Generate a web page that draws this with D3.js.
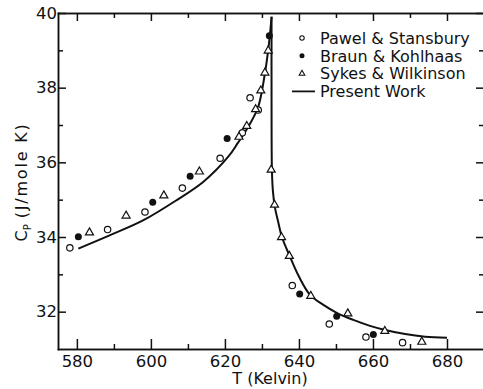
<!DOCTYPE html>
<html lang="en">
<head>
    <meta charset="UTF-8">
    <title>Heat capacity near the Curie point</title>
    <script src="https://d3js.org/d3.v7.min.js"></script>
    <style>
        body { margin: 0; background: #fff; font-family: "DejaVu Sans", sans-serif; }
        .axis path, .axis line { stroke: #111; stroke-width: 1.5px; }
        .axis text { font-size: 16.5px; fill: #111; font-family: "DejaVu Sans", sans-serif; }
        .legend text { font-size: 16px; fill: #111; }
        .label { font-size: 16px; fill: #111; }
    </style>
</head>
<body>
    <div id="chart"></div>
    <script>
        // values: [T (K), Cp (J/mole K)]
        const pawelStansbury = [
            [578.1, 33.71], [588.3, 34.20], [598.4, 34.67], [608.5, 35.31],
            [618.7, 36.11], [624.7, 36.79], [626.8, 37.73], [629.0, 37.40],
            [638.2, 32.70], [648.2, 31.67], [658.1, 31.32], [668.0, 31.17]
        ];
        const braunKohlhaas = [
            [580.4, 34.01], [600.5, 34.93], [610.6, 35.63], [620.6, 36.64],
            [632.0, 39.39], [640.2, 32.47], [650.2, 31.88], [660.1, 31.39]
        ];
        const sykesWilkinson = [
            [583.4, 34.12], [593.3, 34.57], [603.5, 35.11], [613.1, 35.75],
            [623.8, 36.68], [625.9, 36.97], [628.3, 37.42], [629.7, 37.92],
            [630.8, 38.40], [631.7, 38.99], [632.5, 35.80], [633.4, 34.86],
            [635.3, 33.99], [637.4, 33.49], [643.2, 32.42], [653.2, 31.95],
            [663.2, 31.48], [673.2, 31.19]
        ];
        // "Present Work" curve, below and above the transition
        const presentWorkLow = [
            [580.4, 33.69], [589.0, 34.05], [598.0, 34.45], [607.0, 34.99],
            [614.2, 35.48], [620.9, 36.15], [623.5, 36.52], [626.3, 36.95],
            [629.0, 37.49], [630.8, 38.38], [631.7, 39.01], [632.2, 39.46],
            [632.6, 39.90]
        ];
        const presentWorkHigh = [
            [632.6, 39.90], [632.6, 37.60], [632.7, 35.80], [632.95, 35.25],
            [633.5, 34.80], [634.4, 34.40], [635.4, 34.00], [637.6, 33.47],
            [640.0, 32.94], [643.0, 32.45], [646.6, 32.18], [650.2, 31.97],
            [654.7, 31.78], [659.2, 31.62], [663.3, 31.51], [668.7, 31.40],
            [674.1, 31.33], [680.0, 31.30]
        ];

        const xMajor = [580, 600, 620, 640, 660, 680];
        const xMinor = [590, 610, 630, 650, 670];
        const yMajor = [32, 34, 36, 38, 40];
        const yMinor = [33, 35, 37, 39];

        const legendItems = [
            { name: "Pawel & Stansbury", kind: "open" },
            { name: "Braun & Kohlhaas", kind: "filled" },
            { name: "Sykes & Wilkinson", kind: "triangle" },
            { name: "Present Work", kind: "line" }
        ];

        const width = 483;
        const height = 389;
        const plot = { left: 58, right: 484, top: 13, bottom: 349 };

        const svg = d3.select("#chart")
            .append("svg")
            .attr("width", width)
            .attr("height", height);

        const x = d3.scaleLinear().domain([574.9, 690]).range([plot.left, plot.right]);
        const y = d3.scaleLinear().domain([31, 40]).range([plot.bottom, plot.top]);

        // frame with inward ticks on all four sides
        function addAxis(axisFn, scale, values, size, transform, labels) {
            const ax = axisFn(scale).tickValues(values).tickSizeInner(-size).tickSizeOuter(0);
            if (!labels) ax.tickFormat("");
            return svg.append("g")
                .attr("class", "axis")
                .attr("transform", transform)
                .call(ax);
        }

        addAxis(d3.axisBottom, x, xMinor, 5, `translate(0,${plot.bottom})`, false);
        addAxis(d3.axisBottom, x, xMajor, 10, `translate(0,${plot.bottom})`, true)
            .call(g => g.selectAll("text").attr("y", 6));
        addAxis(d3.axisTop, x, xMinor, 5, `translate(0,${plot.top})`, false);
        addAxis(d3.axisTop, x, xMajor, 8, `translate(0,${plot.top})`, false);

        addAxis(d3.axisLeft, y, yMinor, 5, `translate(${plot.left},0)`, false);
        addAxis(d3.axisLeft, y, yMajor, 8, `translate(${plot.left},0)`, true)
            .call(g => g.selectAll("text").attr("x", -1));
        addAxis(d3.axisRight, y, yMinor, 5, `translate(${plot.right},0)`, false);
        addAxis(d3.axisRight, y, yMajor, 8, `translate(${plot.right},0)`, false);

        svg.selectAll(".axis .domain").attr("stroke-linecap", "square");

        // curve
        const line = d3.line()
            .x(d => x(d[0]))
            .y(d => y(d[1]))
            .curve(d3.curveCatmullRom.alpha(0.5));

        [presentWorkLow, presentWorkHigh].forEach(branch => {
            svg.append("path")
                .datum(branch)
                .attr("fill", "none")
                .attr("stroke", "#111")
                .attr("stroke-width", 2)
                .attr("d", line);
        });

        // measured points
        svg.append("g").selectAll("circle")
            .data(pawelStansbury)
            .join("circle")
            .attr("cx", d => x(d[0]))
            .attr("cy", d => y(d[1]))
            .attr("r", 3.2)
            .attr("fill", "#fff")
            .attr("stroke", "#111")
            .attr("stroke-width", 1.2);

        svg.append("g").selectAll("circle")
            .data(braunKohlhaas)
            .join("circle")
            .attr("cx", d => x(d[0]))
            .attr("cy", d => y(d[1]))
            .attr("r", 3.5)
            .attr("fill", "#111");

        const tri = d3.symbol().type(d3.symbolTriangle).size(28);
        svg.append("g").selectAll("path")
            .data(sykesWilkinson)
            .join("path")
            .attr("transform", d => `translate(${x(d[0])},${y(d[1])})`)
            .attr("d", tri)
            .attr("fill", "#fff")
            .attr("stroke", "#111")
            .attr("stroke-width", 1.2);

        // legend
        const legend = svg.append("g")
            .attr("class", "legend")
            .attr("transform", "translate(302,38)");

        const rows = legend.selectAll("g")
            .data(legendItems)
            .join("g")
            .attr("transform", (d, i) => `translate(0,${i * 17.8})`);

        rows.filter(d => d.kind === "open").append("circle")
            .attr("r", 2.2).attr("fill", "#fff").attr("stroke", "#111").attr("stroke-width", 1.1);
        rows.filter(d => d.kind === "filled").append("circle")
            .attr("r", 2.5).attr("fill", "#111");
        rows.filter(d => d.kind === "triangle").append("path")
            .attr("d", d3.symbol().type(d3.symbolTriangle).size(14))
            .attr("fill", "#fff").attr("stroke", "#111").attr("stroke-width", 1.1);
        rows.filter(d => d.kind === "line").append("line")
            .attr("x1", -10).attr("x2", 13)
            .attr("stroke", "#111").attr("stroke-width", 1.8);

        rows.append("text")
            .attr("x", 18)
            .attr("dy", "0.36em")
            .text(d => d.name);

        // axis titles
        svg.append("text")
            .attr("class", "label")
            .attr("x", 270)
            .attr("y", 384)
            .attr("text-anchor", "middle")
            .text("T (Kelvin)");

        const yTitle = svg.append("text")
            .attr("class", "label")
            .attr("transform", "translate(27,182) rotate(-90)")
            .attr("text-anchor", "middle");
        yTitle.append("tspan").text("C");
        yTitle.append("tspan").attr("dy", 4).attr("font-size", 10).text("P");
        yTitle.append("tspan").attr("dy", -4).attr("dx", 6)
            .attr("letter-spacing", 1.8).text("(J/mole K)");
    </script>
</body>
</html>
